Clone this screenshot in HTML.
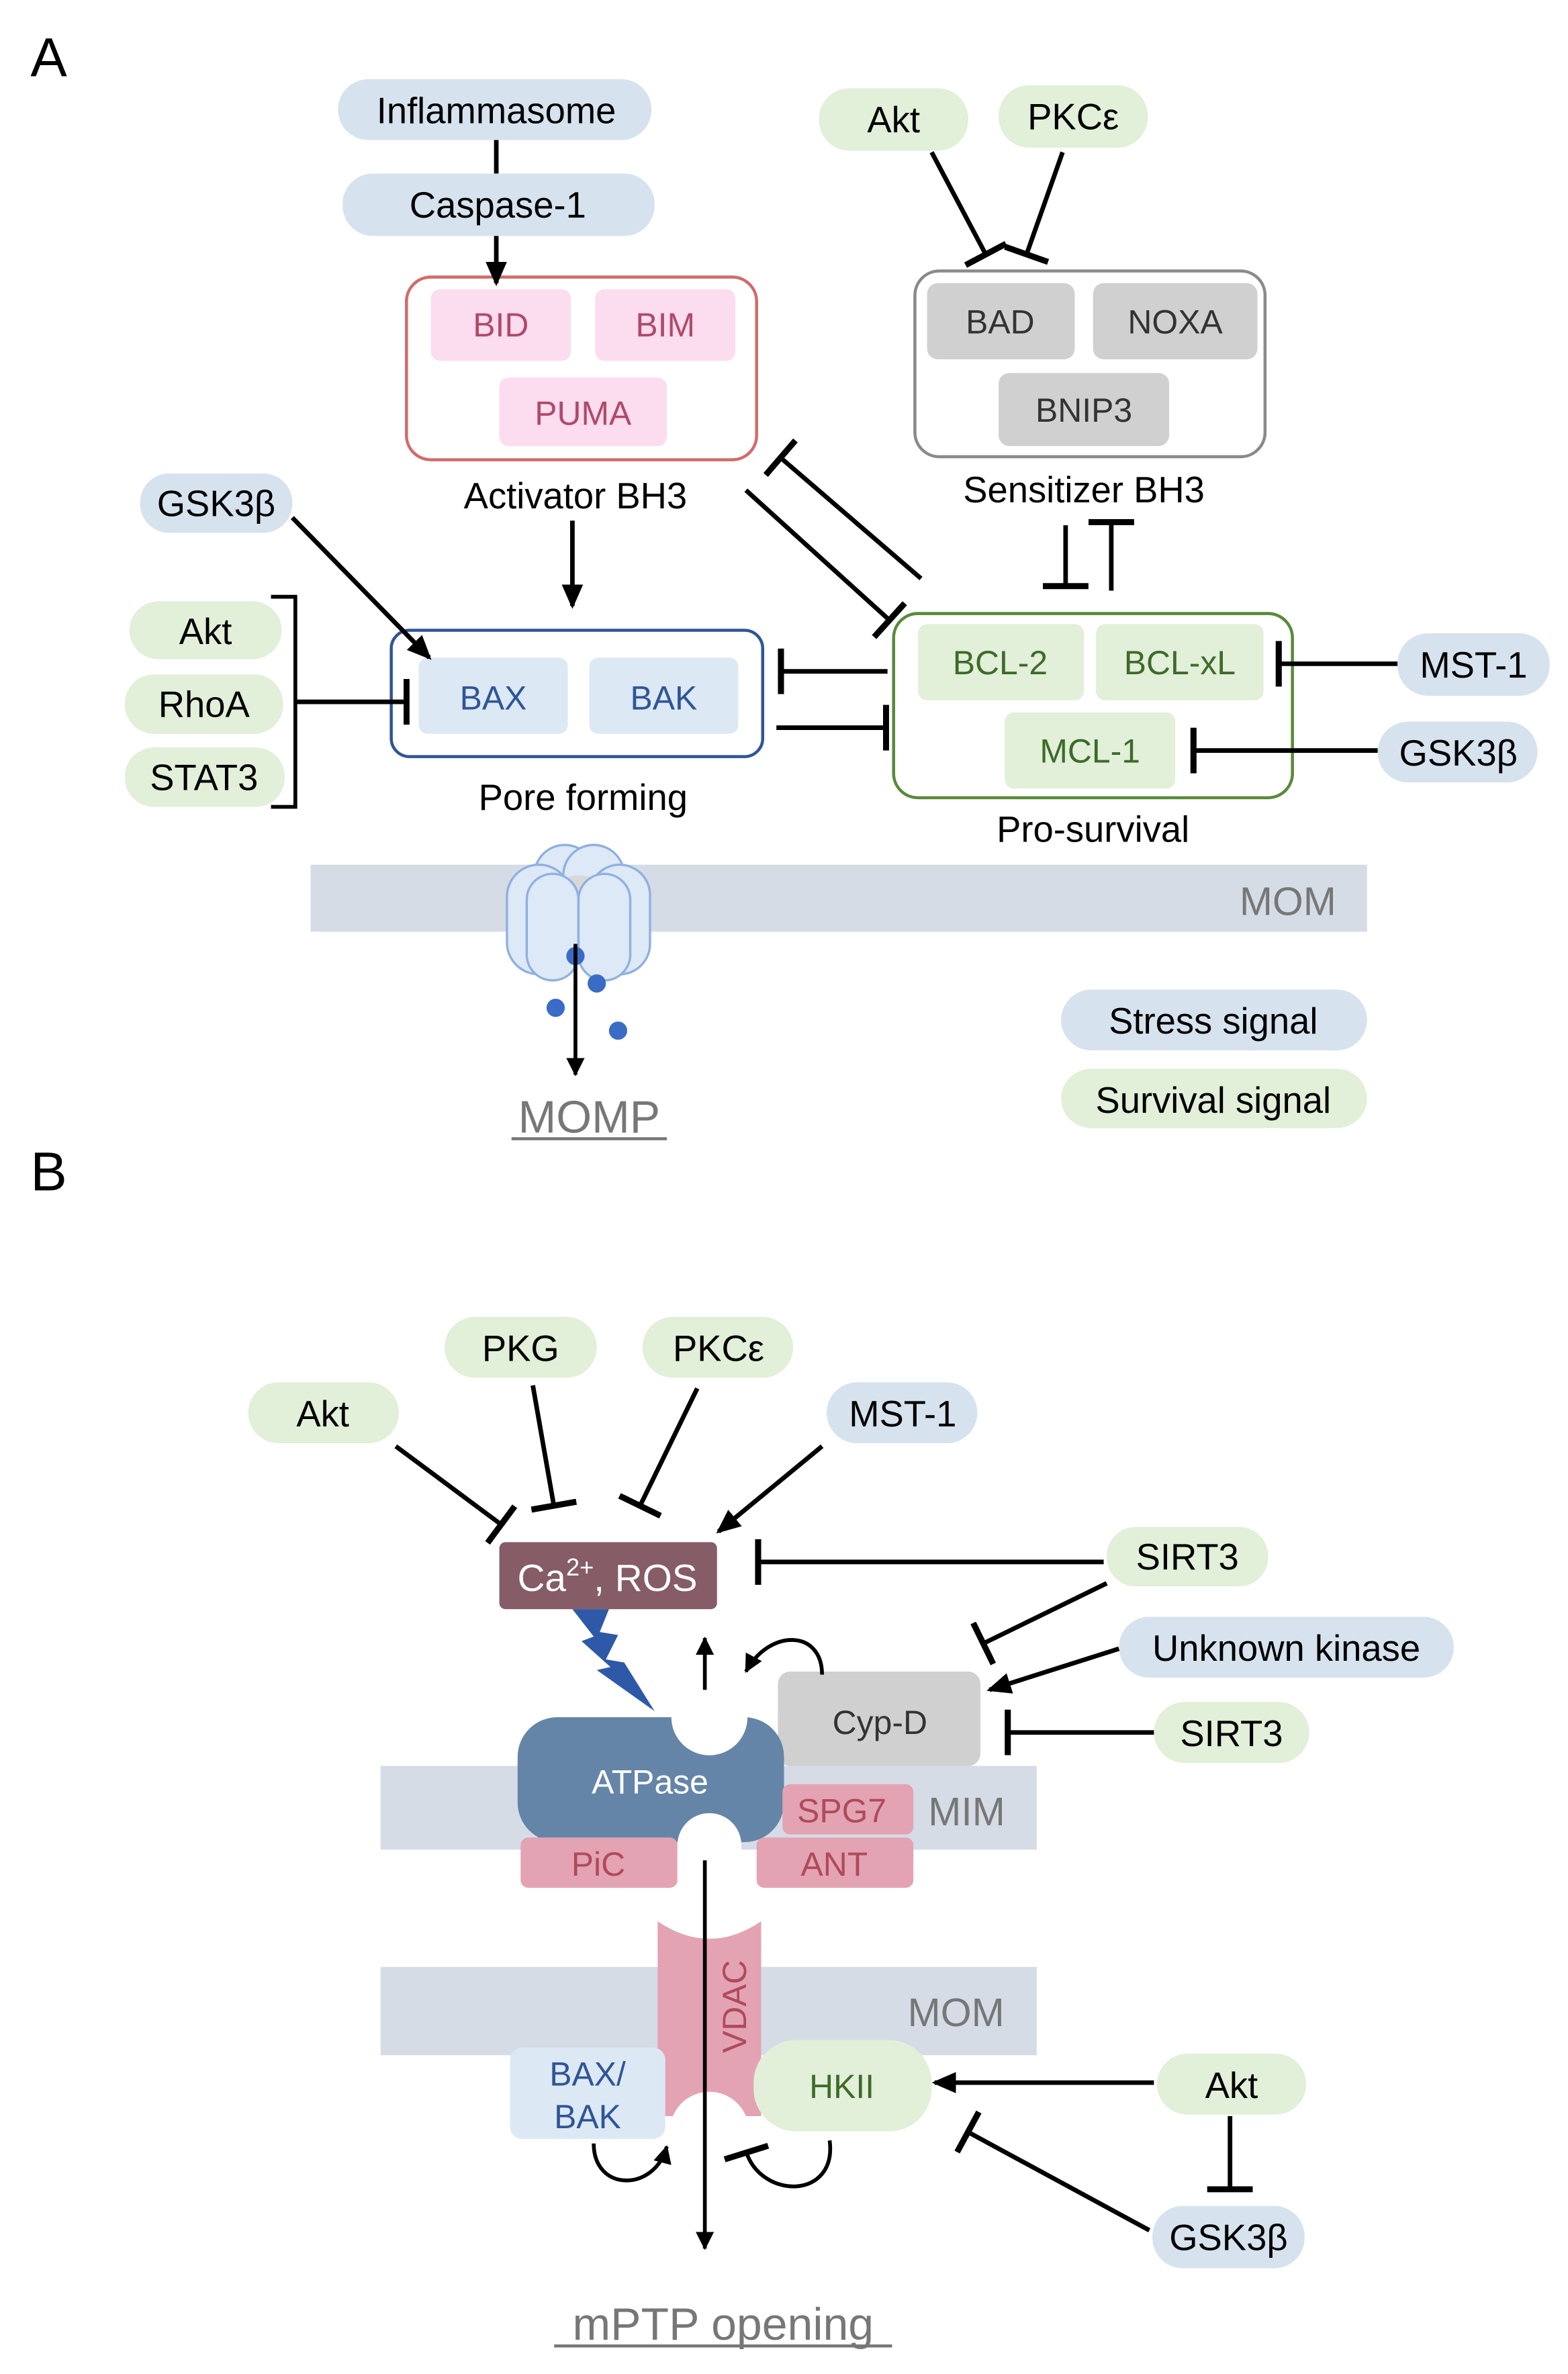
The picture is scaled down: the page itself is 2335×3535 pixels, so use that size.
<!DOCTYPE html>
<html><head><meta charset="utf-8"><style>
html,body{margin:0;padding:0;background:#fff;}
svg{display:block;}
text{font-family:"Liberation Sans",sans-serif;}
</style></head><body>
<svg width="2335" height="3535" viewBox="0 0 1030 1559.4" xmlns="http://www.w3.org/2000/svg">
<defs>
<marker id="a" markerWidth="16" markerHeight="16" refX="14" refY="8" orient="auto" markerUnits="userSpaceOnUse"><path d="M0,1 L16,8 L0,15 z" fill="#000"/></marker>
<marker id="as" markerWidth="12" markerHeight="12" refX="11" refY="6" orient="auto" markerUnits="userSpaceOnUse"><path d="M0,0 L12,6 L0,12 z" fill="#000"/></marker>
<marker id="t" markerWidth="6" markerHeight="30" refX="3" refY="15" orient="auto" markerUnits="userSpaceOnUse"><rect x="0" y="0" width="4" height="30" fill="#000"/></marker>
</defs>
<g font-size="24" text-anchor="middle">
<!-- Panel A -->
<text x="20" y="50" font-size="36" text-anchor="start">A</text>
<rect x="222" y="52" width="206" height="40" rx="20" fill="#d6e3ee"/><text x="326" y="81">Inflammasome</text>
<rect x="225" y="114" width="205" height="41" rx="20" fill="#d6e3ee"/><text x="327" y="143">Caspase-1</text>
<rect x="267" y="182" width="230" height="120" rx="16" fill="#fff" stroke="#d46a6a" stroke-width="2"/>
<rect x="283" y="190" width="92" height="47" rx="6" fill="#fcdcef"/><text x="329" y="221" font-size="22" fill="#b04a68">BID</text>
<rect x="391" y="190" width="92" height="47" rx="6" fill="#fcdcef"/><text x="437" y="221" font-size="22" fill="#b04a68">BIM</text>
<rect x="328" y="248" width="110" height="45" rx="6" fill="#fcdcef"/><text x="383" y="279" font-size="22" fill="#b04a68">PUMA</text>
<text x="378" y="334">Activator BH3</text>

<rect x="538" y="58" width="98" height="41" rx="20" fill="#e2efd9"/><text x="587" y="87">Akt</text>
<rect x="656" y="56" width="98" height="41" rx="20" fill="#e2efd9"/><text x="705" y="85">PKCε</text>
<rect x="601" y="178" width="230" height="122" rx="16" fill="#fff" stroke="#8a8a8a" stroke-width="2"/>
<rect x="609" y="186" width="97" height="50" rx="7" fill="#d0d0d0"/><text x="657" y="219" font-size="22" fill="#333">BAD</text>
<rect x="718" y="186" width="108" height="50" rx="7" fill="#d0d0d0"/><text x="772" y="219" font-size="22" fill="#333">NOXA</text>
<rect x="656" y="245" width="112" height="48" rx="7" fill="#d0d0d0"/><text x="712" y="277" font-size="22" fill="#333">BNIP3</text>
<text x="712" y="330">Sensitizer BH3</text>

<rect x="92" y="311" width="100" height="39" rx="19" fill="#d6e3ee"/><text x="142" y="339">GSK3β</text>
<rect x="85" y="395" width="100" height="38" rx="19" fill="#e2efd9"/><text x="135" y="423">Akt</text>
<rect x="82" y="443" width="104" height="39" rx="19" fill="#e2efd9"/><text x="134" y="471">RhoA</text>
<rect x="82" y="491" width="105" height="39" rx="19" fill="#e2efd9"/><text x="134" y="519">STAT3</text>
<rect x="257" y="414" width="244" height="83" rx="12" fill="#fff" stroke="#2f5597" stroke-width="2"/>
<rect x="275" y="432" width="98" height="50" rx="6" fill="#dce9f5"/><text x="324" y="466" font-size="22" fill="#2f5597">BAX</text>
<rect x="387" y="432" width="98" height="50" rx="6" fill="#dce9f5"/><text x="436" y="466" font-size="22" fill="#2f5597">BAK</text>
<text x="383" y="532">Pore forming</text>

<rect x="587" y="403" width="262" height="121" rx="16" fill="#fff" stroke="#5a8a3a" stroke-width="2"/>
<rect x="603" y="410" width="109" height="50" rx="6" fill="#e2efd9"/><text x="657" y="443" font-size="22" fill="#3d6b2a">BCL-2</text>
<rect x="720" y="410" width="110" height="50" rx="6" fill="#e2efd9"/><text x="775" y="443" font-size="22" fill="#3d6b2a">BCL-xL</text>
<rect x="660" y="468" width="112" height="50" rx="6" fill="#e2efd9"/><text x="716" y="501" font-size="22" fill="#3d6b2a">MCL-1</text>
<text x="718" y="553">Pro-survival</text>
<rect x="918" y="416" width="100" height="41" rx="20" fill="#d6e3ee"/><text x="968" y="445">MST-1</text>
<rect x="905" y="474" width="105" height="40" rx="20" fill="#d6e3ee"/><text x="958" y="503">GSK3β</text>

<g stroke="#000" stroke-width="3" fill="none">
<line x1="326" y1="92" x2="326" y2="114"/>
<line x1="326" y1="155" x2="326" y2="186" marker-end="url(#a)"/>
<line x1="376" y1="342" x2="376" y2="398" marker-end="url(#a)"/>
<line x1="612" y1="100" x2="648" y2="168" marker-end="url(#t)"/>
<line x1="698" y1="100" x2="674" y2="168" marker-end="url(#t)"/>
<line x1="700" y1="345" x2="700" y2="386" marker-end="url(#t)"/>
<line x1="730" y1="388" x2="730" y2="342" marker-end="url(#t)"/>
<line x1="605" y1="380" x2="512" y2="300" marker-end="url(#t)"/>
<line x1="490" y1="322" x2="585" y2="408" marker-end="url(#t)"/>
<line x1="192" y1="340" x2="282" y2="432" marker-end="url(#a)"/>
<polyline points="178,392 194,392 194,530 178,530" stroke-width="2.5"/>
<line x1="194" y1="461" x2="268" y2="461" marker-end="url(#t)"/>
<line x1="583" y1="441" x2="512" y2="441" marker-end="url(#t)"/>
<line x1="510" y1="478" x2="583" y2="478" marker-end="url(#t)"/>
<line x1="918" y1="436" x2="839" y2="436" marker-end="url(#t)"/>
<line x1="905" y1="493" x2="783" y2="493" marker-end="url(#t)"/>
</g>

<rect x="204" y="568" width="694" height="44" fill="#d5dce6"/>
<text x="846" y="601" font-size="26" fill="#777">MOM</text>
<g fill="#dde9f6" stroke="#8fb0e0" stroke-width="1.5">
<rect x="351" y="555" width="40" height="72" rx="20"/><rect x="370" y="555" width="40" height="72" rx="20"/>
<rect x="333" y="568" width="42" height="72" rx="21"/><rect x="387" y="568" width="40" height="72" rx="20"/>
<path d="M368,578 Q380,572 392,578 L380,600 z" fill="#d8d8d8" stroke="none"/>
<rect x="346" y="574" width="34" height="70" rx="17"/><rect x="380" y="574" width="34" height="70" rx="17"/>
</g>
<g fill="#3a6cc6"><circle cx="378" cy="628" r="6"/><circle cx="392" cy="646" r="6"/><circle cx="365" cy="662" r="6"/><circle cx="406" cy="677" r="6"/></g>
<line x1="378" y1="620" x2="378" y2="706" stroke="#000" stroke-width="2.5" marker-end="url(#as)"/>
<text x="387" y="744" font-size="30" fill="#777">MOMP</text>
<line x1="336" y1="748" x2="438" y2="748" stroke="#777" stroke-width="2"/>
<rect x="697" y="650" width="201" height="40" rx="20" fill="#d6e3ee"/><text x="797" y="679">Stress signal</text>
<rect x="697" y="702" width="201" height="39" rx="20" fill="#e2efd9"/><text x="797" y="731">Survival signal</text>

<!-- Panel B -->
<text x="20" y="782" font-size="36" text-anchor="start">B</text>
<rect x="163" y="908" width="99" height="40" rx="20" fill="#e2efd9"/><text x="212" y="937">Akt</text>
<rect x="292" y="865" width="100" height="40" rx="20" fill="#e2efd9"/><text x="342" y="894">PKG</text>
<rect x="422" y="865" width="99" height="40" rx="20" fill="#e2efd9"/><text x="472" y="894">PKCε</text>
<rect x="543" y="908" width="99" height="40" rx="20" fill="#d6e3ee"/><text x="593" y="937">MST-1</text>
<rect x="328" y="1013" width="143" height="44" rx="4" fill="#865c67"/>
<text x="399" y="1045" font-size="25" fill="#fff">Ca<tspan font-size="16" dy="-10">2+</tspan><tspan dy="10">, ROS</tspan></text>
<rect x="727" y="1003" width="106" height="39" rx="19" fill="#e2efd9"/><text x="780" y="1031">SIRT3</text>
<rect x="735" y="1062" width="220" height="40" rx="20" fill="#d6e3ee"/><text x="845" y="1091">Unknown kinase</text>
<rect x="758" y="1118" width="102" height="40" rx="20" fill="#e2efd9"/><text x="809" y="1147">SIRT3</text>

<rect x="250" y="1160" width="431" height="55" fill="#d5dce6"/>
<text x="635" y="1199" font-size="26" fill="#777">MIM</text>
<rect x="511" y="1098" width="133" height="62" rx="8" fill="#d0d0d0"/><text x="578" y="1139" font-size="22" fill="#333">Cyp-D</text>
<path d="M376,1057 L400,1057 L394,1072 L406,1074 L398,1090 L410,1092 L430,1124 L392,1097 L401,1095 L382,1078 L390,1075 z" fill="#2e59a8"/>
<rect x="340" y="1128" width="175" height="82" rx="26" fill="#6585a8"/>
<circle cx="466" cy="1128" r="25" fill="#fff"/>
<rect x="342" y="1207" width="103" height="33" rx="5" fill="#e3a3b3"/><text x="393" y="1232" font-size="22" fill="#b04a5a">PiC</text>
<rect x="497" y="1207" width="103" height="33" rx="5" fill="#e3a3b3"/><text x="548" y="1232" font-size="22" fill="#b04a5a">ANT</text>
<rect x="514" y="1172" width="86" height="33" rx="5" fill="#e3a3b3"/><text x="553" y="1197" font-size="22" fill="#b04a5a">SPG7</text>
<circle cx="466" cy="1212" r="21" fill="#fff"/>
<rect x="445" y="1212" width="42" height="30" fill="#fff"/>
<text x="427" y="1178" font-size="22" fill="#fff">ATPase</text>

<rect x="250" y="1292" width="431" height="58" fill="#d5dce6"/>
<text x="628" y="1331" font-size="26" fill="#777">MOM</text>
<path d="M432,1262 Q466,1285 500,1262 L500,1390 L432,1390 z" fill="#e3a3b3"/>
<text x="0" y="0" font-size="22" fill="#b04a5a" transform="translate(490,1318) rotate(-90)">VDAC</text>
<circle cx="466" cy="1400" r="26" fill="#fff"/>
<rect x="335" y="1345" width="102" height="60" rx="8" fill="#dce9f5"/>
<text x="386" y="1370" font-size="22" fill="#2f5597">BAX/</text><text x="386" y="1398" font-size="22" fill="#2f5597">BAK</text>
<rect x="495" y="1340" width="117" height="60" rx="28" fill="#e2efd9"/><text x="553" y="1378" font-size="22" fill="#3d6b2a">HKII</text>
<rect x="760" y="1349" width="98" height="40" rx="20" fill="#e2efd9"/><text x="809" y="1378">Akt</text>
<rect x="757" y="1449" width="100" height="41" rx="20" fill="#d6e3ee"/><text x="807" y="1478">GSK3β</text>

<g stroke="#000" stroke-width="3" fill="none">
<line x1="260" y1="950" x2="330" y2="1002" marker-end="url(#t)"/>
<line x1="350" y1="910" x2="364" y2="990" marker-end="url(#t)"/>
<line x1="458" y1="912" x2="420" y2="990" marker-end="url(#t)"/>
<line x1="540" y1="950" x2="472" y2="1006" marker-end="url(#a)"/>
<line x1="725" y1="1026" x2="497" y2="1026" marker-end="url(#t)"/>
<line x1="727" y1="1040" x2="645" y2="1080" marker-end="url(#t)"/>
<line x1="735" y1="1083" x2="650" y2="1110" marker-end="url(#a)"/>
<line x1="758" y1="1138" x2="661" y2="1138" marker-end="url(#t)"/>
<line x1="463" y1="1110" x2="463" y2="1076" stroke-width="2.5" marker-end="url(#as)"/>
<path d="M540,1100 C540,1070 505,1070 490,1098" stroke-width="2.5" marker-end="url(#as)"/>
<line x1="463" y1="1222" x2="463" y2="1477" stroke-width="2.5" marker-end="url(#as)"/>
<path d="M390,1408 C390,1440 430,1440 438,1410" stroke-width="2.5" marker-end="url(#as)"/>
<path d="M545,1406 C550,1445 500,1445 490,1413" stroke-width="2.5" marker-end="url(#t)"/>
<line x1="758" y1="1368" x2="614" y2="1368" marker-end="url(#a)"/>
<line x1="808" y1="1390" x2="808" y2="1439" marker-end="url(#t)"/>
<line x1="755" y1="1465" x2="635" y2="1400" marker-end="url(#t)"/>
</g>
<text x="475" y="1537" font-size="30" fill="#777">mPTP opening</text>
<line x1="364" y1="1541" x2="586" y2="1541" stroke="#777" stroke-width="2"/>
</g>
</svg>
</body></html>
